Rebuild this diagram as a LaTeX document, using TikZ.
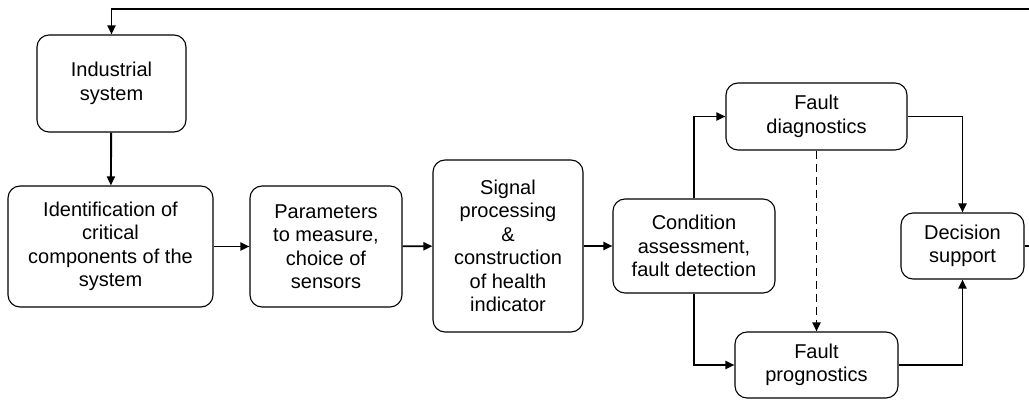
\documentclass[tikz,border=0pt]{standalone}
\usepackage{fontspec}
\setmainfont{Liberation Sans}
\usetikzlibrary{arrows.meta}
\begin{document}
\begin{tikzpicture}[x=1pt,y=-1pt,
  box/.style={draw, line width=1.1pt, rounded corners=12pt, align=center,
    font=\fontsize{20}{23.5}\selectfont, inner sep=0pt},
  arr/.style={line width=1.9pt, -{Triangle[length=9pt,width=8pt]}},
  darr/.style={arr, dashed, dash pattern=on 8pt off 5pt}]
\useasboundingbox (0,0) rectangle (1029,401);
\node[box, minimum width=149pt, minimum height=97pt] (ind) at (111.5,83.5) {Industrial\\system};
\node[box, minimum width=205pt, minimum height=121pt] (idf) at (110.5,246.5) {Identification of\\critical\\components of the\\system};
\node[box, minimum width=152pt, minimum height=121pt] (par) at (326,246.5) {Parameters\\to measure,\\choice of\\sensors};
\node[box, minimum width=150pt, minimum height=172pt] (sig) at (508,246) {Signal\\processing\\\&\\construction\\of health\\indicator};
\node[box, minimum width=162pt, minimum height=94pt] (cond) at (694,246) {Condition\\assessment,\\fault detection};
\node[box, minimum width=181pt, minimum height=67pt] (diag) at (816.5,116.5) {Fault\\diagnostics};
\node[box, minimum width=163pt, minimum height=66pt] (prog) at (816.5,365) {Fault\\prognostics};
\node[box, minimum width=123pt, minimum height=66pt] (dec) at (962.5,246) {Decision\\support};
\coordinate (fbT) at (1033,9);
\draw[arr] (ind) -- (idf);
\draw[arr] (idf) -- (par);
\draw[arr] (par) -- (sig);
\draw[arr] (sig) -- (cond);
\draw[arr] (cond.north) |- (diag.west);
\draw[arr] (cond.south) |- (prog.west);
\draw[darr] (diag) -- (prog);
\draw[arr] (diag.east) -| (dec.north);
\draw[arr] (prog.east) -| (dec.south);
\draw[arr] (dec.east) -| (fbT) -| (ind.north);
\end{tikzpicture}
\end{document}
